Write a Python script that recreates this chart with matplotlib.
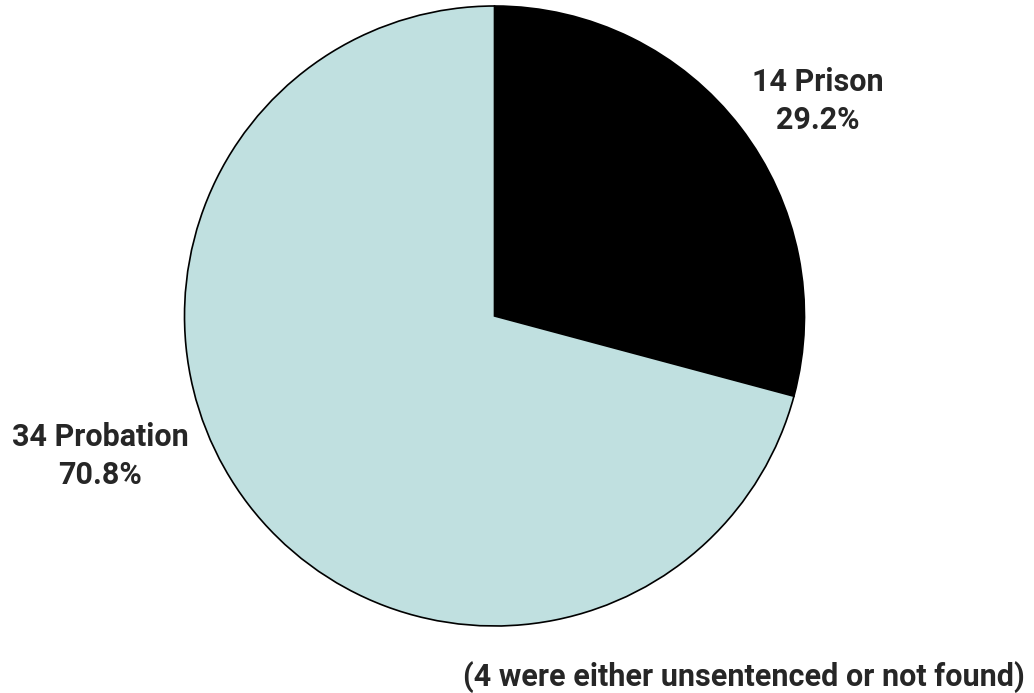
import matplotlib
matplotlib.use("Agg")
import matplotlib.pyplot as plt

categories = ["Prison", "Probation"]
counts = [14, 34]
percents = [29.2, 70.8]
colors = ["#000000", "#C0E0E0"]
footnote = "(4 were either unsentenced or not found)"

W, H = 1034, 693
fig = plt.figure(figsize=(W / 100, H / 100), dpi=100)
fig.patch.set_facecolor("white")

cx, cy, r = 494.5, 316, 310
ax = fig.add_axes([(cx - r) / W, (H - cy - r) / H, 2 * r / W, 2 * r / H])
ax.pie(counts, colors=colors, startangle=90, counterclock=False,
       wedgeprops=dict(edgecolor="black", linewidth=1.2))
ax.set_xlim(-1, 1)
ax.set_ylim(-1, 1)
ax.set_aspect("equal")
ax.axis("off")

font = dict(family=["Roboto", "DejaVu Sans"], fontweight="bold", color="#262626", fontsize=22)
fig.text(818 / W, 1 - 101 / H, f"{counts[0]} {categories[0]}\n{percents[0]}%",
         ha="center", va="center", linespacing=1.3, **font)
fig.text(100 / W, 1 - 456 / H, f"{counts[1]} {categories[1]}\n{percents[1]}%",
         ha="center", va="center", linespacing=1.3, **font)
fig.text(1025 / W, 1 - 677 / H, footnote, ha="right", va="center", **font)

fig.savefig("out.png", dpi=100, facecolor="white")
